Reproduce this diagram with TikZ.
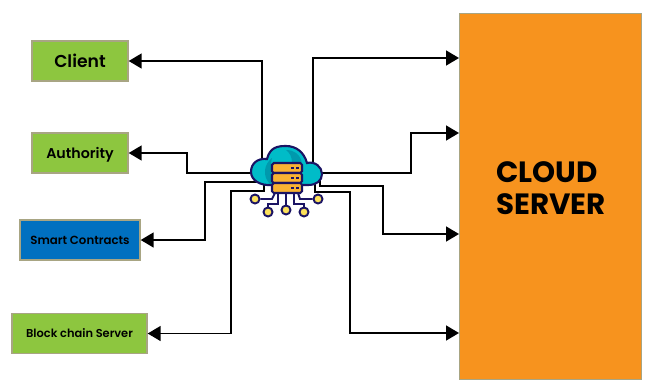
\documentclass[tikz,border=0pt]{standalone}
\usepackage{fontspec}
\setmainfont{Poppins}
\newfontfamily\medfont{Poppins SemiBold}
\usepackage{tikz}
\usetikzlibrary{arrows.meta,positioning}
\definecolor{leaf}{HTML}{8DC63F}
\definecolor{sea}{HTML}{0070C0}
\definecolor{amber}{HTML}{F7931E}
\definecolor{rim}{HTML}{A8A583}
\definecolor{navy}{HTML}{1B1464}
\definecolor{teal}{HTML}{00BCC8}
\definecolor{tealdark}{HTML}{0099AD}
\definecolor{gold}{HTML}{F9B233}
\definecolor{dotgold}{HTML}{FCE15B}

\begin{document}
\begin{tikzpicture}[
  x=0.02cm, y=-0.02cm,
  box/.style={draw=rim, line width=0.8pt, align=center, inner sep=0pt},
  party/.style={box, fill=leaf, minimum height=0.8cm},
  flow/.style={-{Triangle[length=2.6mm,width=3mm]}, line width=0.9pt, draw=black},
  hubline/.style={draw=navy, line width=1.1pt},
  dot/.style={circle, draw=navy, line width=1.1pt, fill=dotgold, inner sep=0pt, minimum size=0.18cm}
]
\useasboundingbox (0,0) rectangle (645,379);

\node[party, minimum width=1.92cm, font=\fontsize{9.8}{12}\medfont] (client) at (80,61) {Client};
\node[party, minimum width=1.92cm, text depth=0pt, font=\fontsize{8.1}{10}\medfont] (authority) at (80,153) {Authority};
\node[box, fill=sea, minimum width=2.4cm, minimum height=0.8cm, font=\fontsize{6.7}{9}\medfont] (contracts) at (80,240) {Smart Contracts};
\node[party, minimum width=2.7cm, font=\fontsize{6.5}{9}\medfont] (chain) at (79.5,333.5) {Block chain Server};

% server runs off the bottom of the page
\path[fill=amber, draw=rim, line width=0.5pt] (459,13) -- (641,13) -- (641,379) -- (459,379) -- cycle;
\node[font=\fontsize{16.7}{18.1}\bfseries, align=left, inner sep=0pt, anchor=west] (server) at (496,188) {CLOUD\\SERVER};

% ends at the hub
\coordinate (hubclient) at (262,165);
\coordinate (hubauthority) at (262,173);
\coordinate (hubcontracts) at (262,182);
\coordinate (hubchain) at (264,180);
\coordinate (hubup) at (313,165);
\coordinate (hubtop) at (310,173);
\coordinate (hubmid) at (320,180);
\coordinate (hublow) at (315,180);

% ends at the server
\coordinate (upin) at (459,58);
\coordinate (topin) at (459,133);
\coordinate (midin) at (459,234);
\coordinate (lowin) at (459,333);

\draw[flow] (hubclient) |- (client.east);
\draw[flow] (hubauthority) -- ++(-75,0) |- (authority.east);
\draw[flow] (hubcontracts) -- ++(-57,0) |- (contracts.east);
\draw[flow] (hubchain) -- ++(0,11) -- ++(-33,0) |- (chain.east);
\draw[flow] (hubup) |- (upin);
\draw[flow] (hubtop) -- ++(101,0) |- (topin);
\draw[flow] (hubmid) -- ++(0,6) -- ++(63,0) |- (midin);
\draw[flow] (hublow) -- ++(0,12) -- ++(35,0) |- (lowin);

% cloud
\path[fill=teal, draw=navy, line width=1.2pt]
  (272,185) .. controls (260,186) and (251,180) .. (251,172)
  .. controls (251,163) and (258,158) .. (267,159)
  .. controls (270,147) and (278,146) .. (286,146)
  .. controls (296,146) and (304,152) .. (307,163)
  .. controls (315,161) and (322,167) .. (322,174)
  .. controls (322,181) and (316,185) .. (308,185) -- cycle;
\path[fill=tealdark] (270,184) .. controls (262,176) and (264,164) .. (272,158)
  .. controls (270,165) and (270,175) .. (276,184) -- cycle;
\path[fill=tealdark] (286,150) .. controls (294,150) and (300,154) .. (302,163)
  -- (292,163) .. controls (292,157) and (290,153) .. (286,150) -- cycle;

% circuit
\node[dot] (pinA) at (255,199) {};
\node[dot] (pinB) at (268,212) {};
\node[dot] (pinC) at (286,210) {};
\node[dot] (pinD) at (304,212) {};
\node[dot] (pinE) at (318,199) {};
\draw[hubline] (pinA) -- (272,199) -- (275,193);
\draw[hubline] (pinB) -- (268,204) -- (278,204) -- (278,193);
\draw[hubline] (pinC) -- (286,193);
\draw[hubline] (pinD) -- (304,204) -- (294,204) -- (294,193);
\draw[hubline] (pinE) -- (300,199) -- (298,193);

% server stack
\foreach \rowy in {163,173,183}{
  \path[fill=gold, draw=navy, line width=1.2pt, rounded corners=1pt] (272,\rowy) rectangle (302,\rowy+10);
  \fill[navy] (291,\rowy+4) rectangle (294,\rowy+6);
  \fill[navy] (296,\rowy+4) rectangle (299,\rowy+6);
}
\end{tikzpicture}
\end{document}
